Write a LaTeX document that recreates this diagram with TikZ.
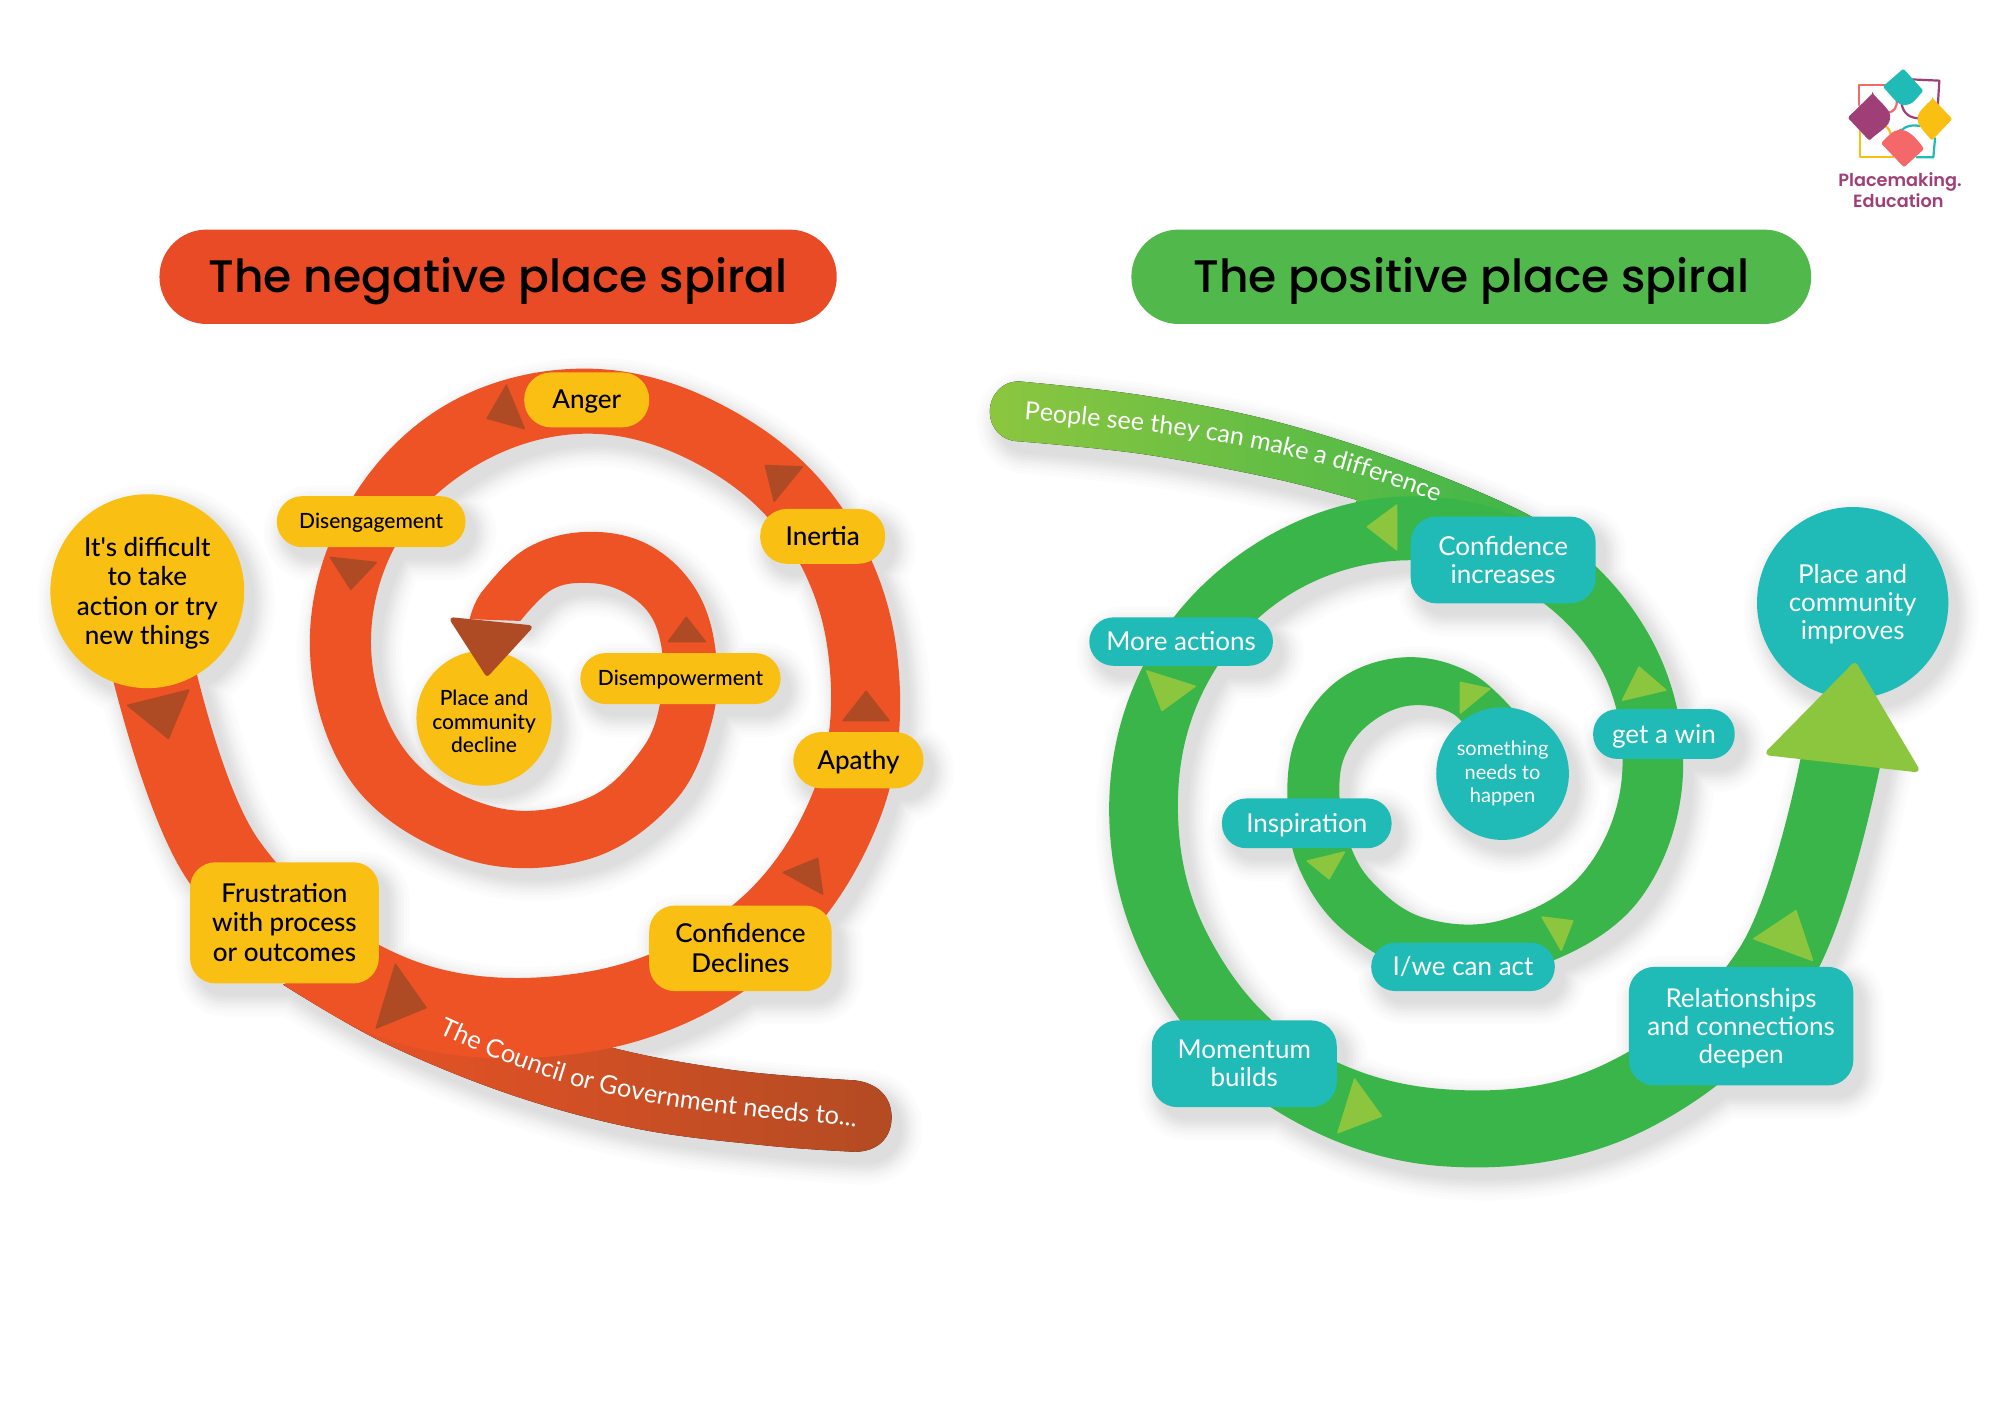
\documentclass[tikz,border=0pt]{standalone}
\usepackage{fontspec}
\usetikzlibrary{decorations.text}
\setmainfont{Lato}
\newfontfamily\medf{Lato Medium}
\newfontfamily\titlefont{Poppins Medium}
\newfontfamily\logofont{Poppins SemiBold}
\definecolor{spred}{HTML}{EE5326}
\definecolor{spdark}{HTML}{B34B23}
\definecolor{triR}{HTML}{AE4B24}
\definecolor{spgreen}{HTML}{3AB54A}
\definecolor{lgreen}{HTML}{8CC63F}
\definecolor{tealc}{HTML}{20BBB7}
\definecolor{yell}{HTML}{F9C013}
\definecolor{titleR}{HTML}{E84B25}
\definecolor{titleG}{HTML}{51B84B}
\definecolor{purp}{HTML}{A03E78}
\definecolor{coral}{HTML}{F4686A}
\tikzset{
  bx/.style 2 args={minimum width=#1*1.2755pt,minimum height=#2*1.2755pt,inner sep=0pt,align=center,rectangle},
  txtbig/.style={font=\fontsize{26}{29.5}\selectfont,text depth=1pt},
  txtteal/.style={font=\fontsize{26}{28}\selectfont,text depth=1pt},
  txtsm/.style={font=\fontsize{21}{23.5}\selectfont,text depth=1pt},
  ybox/.style={fill=yell,text=black,execute at begin node=\medf},
  tbox/.style={fill=tealc,text=white},
  rr/.style={rounded corners=#1*1.2755pt},
  ycirc/.style={circle,fill=yell,text=black,inner sep=0pt,align=center,minimum size=#1*1.2755pt,execute at begin node=\medf},
  tcirc/.style={circle,fill=tealc,text=white,inner sep=0pt,align=center,minimum size=#1*1.2755pt},
  triD/.style={fill=triR,draw=triR,line width=1.5pt,line join=round},
  triL/.style={fill=lgreen,draw=lgreen,line width=1.5pt,line join=round},
  pilltitle/.style={rectangle,inner sep=0pt,text=black,text depth=4pt,font=\titlefont\fontsize{45.6}{50}\selectfont},
  lg/.style={line width=2.2pt,line cap=round,line join=round},
  sl/.style={}
}
% the four band outlines
\newcommand\TailRed{plot[smooth,tension=.6] coordinates {(222,772)(300,817)(400,858)(500,885)(600,898)(670,903)}
  .. controls (688,903) and (699,892) .. (699,876)
  .. controls (699,860) and (688,849) .. (670,847)
  -- plot[smooth,tension=.6] coordinates {(670,847)(575,839)(475,820)(400,790)(300,745)} -- cycle}
\newcommand\TailGreen{plot[smooth,tension=.6] coordinates {(799,299)(896,310)(998,330)(1100,362)(1197,403)(1230,430)}
  -- (1060,400)
  -- plot[smooth,tension=.6] coordinates {(1064,392)(998,375)(896,356)(799,346)}
  .. controls (785,346) and (776,335) .. (776,323)
  .. controls (776,310) and (785,299) .. (799,299) -- cycle}
% spirals in polar form round their own centres
\newcommand\SpiralRed{plot[smooth,tension=.63] coordinates {(180:377)(150:361)(120:345)(90:315)(60:290)(30:265)(0:243)(-30:229)(-60:220)(-90:221)(-120:222)(-150:219)(-180:217)(-210:211)(-240:189)(-270:164)(-300:137)(-330:113)(-360:101)(-390:98)(-420:96)(-450:93)(-480:93)(-510:94)(-525:95)}
  -- plot[smooth,tension=.63] coordinates {(-516:57)(-480:55)(-450:53)(-420:54)(-390:57)(-360:59)(-330:68)(-300:88)(-270:116)(-240:142)(-210:162)(-180:169)(-150:171)(-120:169)(-90:170)(-60:170)(-30:178)(0:189)(30:208)(60:230)(90:252)(120:279)(150:297)(180:310)} -- cycle}
\newcommand\SpiralGreen{plot[smooth,tension=.63] coordinates {(-5:368)(26:344)(56:321)(86:295)(116:272)(146:252)(176:241)(206:235)(236:231)(266:231)(296:229)(326:220)(356:210)(386:195)(416:167)(446:144)(476:124)(506:110)(536:101)(566:103)(596:106)(626:105)(656:102)(686:100)}
  -- plot[smooth,tension=.63] coordinates {(686:60)(656:67)(626:67)(596:64)(566:62)(536:60)(506:65)(476:79)(446:100)(416:122)(386:146)(356:162)(326:174)(296:179)(266:181)(236:183)(206:184)(176:187)(146:198)(116:216)(86:234)(56:260)(26:282)(-5:303)} -- cycle}
\newcommand\SR[5]{\path[sl,rounded corners=#5*1.2755pt] ({#1-#3/2},{#2-#4/2}) rectangle ++(#3,#4);}
\newcommand\SC[3]{\path[sl] (#1,#2) circle[radius=#3];}
\newcommand\AllShadows{%
  \path[sl] \TailRed;
  \path[sl] \TailGreen;
  \begin{scope}[shift={(460,510)}]\path[sl] \SpiralRed;\end{scope}
  \begin{scope}[shift={(1110,620)}]\path[sl] \SpiralGreen;\end{scope}
  \SC{115.5}{463.5}{76}\SC{379.5}{563}{53}\SC{1452.5}{472.5}{75}\SC{1178}{606.5}{52}
  \SR{291}{409}{148}{40}{20}\SR{460}{313.5}{98}{43}{21}\SR{645}{420.5}{98}{43}{21}
  \SR{533.5}{532}{157}{40}{20}\SR{673}{596}{102}{44}{22}\SR{580.5}{743.5}{143}{67}{20}
  \SR{223}{723.5}{148}{95}{20}\SR{1178.5}{439}{145}{68}{20}\SR{926}{503}{144}{38}{19}
  \SR{1304.5}{575.5}{111}{39}{19}\SR{1024.5}{645.5}{133}{39}{19}\SR{1147}{758}{144}{38}{19}
  \SR{975.5}{834}{145}{68}{20}\SR{1365}{804.5}{176}{93}{20}}
\begin{document}
\begin{tikzpicture}[x=1.2755pt,y=-1.2755pt]
\useasboundingbox (0,0) rectangle (1568,1108.6);
\fill[white] (0,0) rectangle (1568,1108.6);

% Titles
\node[pilltitle,bx={531}{74},rr=37,fill=titleR] (tneg) at (390.5,217) {The negative place spiral};
\node[pilltitle,bx={533}{74},rr=37,fill=titleG] (tpos) at (1153.5,217) {The positive place spiral};

% soft shadows: opaque greys painted from the widest and palest to the narrowest and darkest
\begin{scope}[shift={(7,8.6)}]
  \foreach \w/\c in {44/1,38/2,32/3.5,26/5,20/7,15/9,10/10.5,5/12,1/13}{
    \tikzset{sl/.style={draw=black!\c,fill=black!\c,line width=\w pt,line join=round}}
    \AllShadows
  }
\end{scope}

% ---------- negative spiral
\fill[left color=spred,middle color=spdark,right color=spdark] \TailRed;
\begin{scope}[shift={(460,510)}]\fill[spred] \SpiralRed;\end{scope}

\path[postaction={decorate},decoration={text along path,text align=left,
  text={|\fontsize{25.4}{26}\selectfont\color{white}|The Council or Government needs to...}}]
  (344,810) .. controls (387,830) and (427,846) .. (469,856) .. controls (507,865) and (542,870) .. (577,874) .. controls (607,878) and (637,880) .. (669,883) -- (720,887);

% arrow triangles red
\filldraw[triD] (397,302)--(382,328)--(411,336)--cycle;
\filldraw[triD] (600,365)--(629,366)--(607,393)--cycle;
\filldraw[triD] (679,542)--(661,565)--(697,565)--cycle;
\filldraw[triD] (641,673)--(614,684)--(645,701)--cycle;
\filldraw[triD] (310,756)--(295,806)--(334,790)--cycle;
\filldraw[triD] (148,541)--(100,553)--(132,579)--cycle;
\filldraw[triD] (259,437)--(295,441)--(275,462)--cycle;
\filldraw[triD] (538,484)--(524,503)--(553,503)--cycle;

% nodes red
\node[ycirc=152,txtbig] (difficult) at (115.5,463.5) {It's difficult\\to take\\action or try\\new things};
\node[ycirc=106,txtsm] (decline) at (379.5,563) {\rule{0pt}{23pt}Place and\\community\\decline};
\node[ybox,bx={148}{40},rr=20,txtsm] (diseng) at (291,409) {Disengagement};
\node[ybox,bx={98}{43},rr=21,txtbig] (anger) at (460,313.5) {Anger};
\node[ybox,bx={98}{43},rr=21,txtbig] (inertia) at (645,420.5) {Inertia};
\node[ybox,bx={157}{40},rr=20,txtsm] (disemp) at (533.5,532) {Disempowerment};
\node[ybox,bx={102}{44},rr=22,txtbig] (apathy) at (673,596) {Apathy};
\node[ybox,bx={143}{67},rr=20,txtbig] (confd) at (580.5,743.5) {Confidence\\Declines};
\node[ybox,bx={148}{95},rr=20,txtbig] (frust) at (223,723.5) {Frustration\\with process\\or outcomes};
% big arrow red
\filldraw[fill=triR,draw=triR,line width=5pt,line join=round] (355,486)--(415,492)--(382,528)--cycle;

% ---------- positive spiral
\fill[left color=lgreen,right color=spgreen] \TailGreen;
\begin{scope}[shift={(1110,620)}]\fill[spgreen] \SpiralGreen;\end{scope}

\path[postaction={decorate},decoration={text along path,text align=left,
  text={|\fontsize{25.1}{26}\selectfont\color{white}|People see they can make a difference}}]
  (803,329) .. controls (840,332) and (880,336) .. (921,341) .. controls (955,346) and (985,351) .. (1013,358) .. controls (1055,368) and (1095,381) .. (1130,395) -- (1170,411);

% triangles green
\filldraw[triL] (1095,396)--(1072,413)--(1095,431)--cycle;
\filldraw[triL] (1285,523)--(1306,541)--(1272,549)--cycle;
\filldraw[triL] (1145,535)--(1168,540)--(1145,559)--cycle;
\filldraw[triL] (899,526)--(937,538)--(911,557)--cycle;
\filldraw[triL] (1025,675)--(1054,668)--(1042,689)--cycle;
\filldraw[triL] (1209,719)--(1233,722)--(1224,745)--cycle;
\filldraw[triL] (1062,846)--(1083,875)--(1049,888)--cycle;
\filldraw[triL] (1408,714)--(1375,736)--(1421,753)--cycle;

% nodes green
\node[tcirc=150,txtteal] (improves) at (1452.5,472.5) {Place and\\community\\improves};
\node[tcirc=104,font=\fontsize{20}{23.5}\selectfont] (happen) at (1178,606.5) {something\\needs to\\happen};
\node[tbox,bx={145}{68},rr=20,txtteal] (confi) at (1178.5,439) {Confidence\\increases};
\node[tbox,bx={144}{38},rr=19,txtteal] (more) at (926,503) {More actions};
\node[tbox,bx={111}{39},rr=19,txtteal] (win) at (1304.5,575.5) {get a win};
\node[tbox,bx={133}{39},rr=19,txtteal] (insp) at (1024.5,645.5) {Inspiration};
\node[tbox,bx={144}{38},rr=19,txtteal] (act) at (1147,758) {I/we can act};
\node[tbox,bx={145}{68},rr=20,txtteal] (moment) at (975.5,834) {Momentum\\builds};
\node[tbox,bx={176}{93},rr=20,txtteal] (relat) at (1365,804.5) {Relationships\\and connections\\deepen};
% big arrow green
\filldraw[fill=lgreen,draw=lgreen,line width=6pt,line join=round] (1454,522)--(1387,590)--(1502,603)--cycle;

% ---------- logo
\begin{scope}[shift={(1426.9,39.2)},x=0.3333pt,y=-0.3333pt]
  \draw[lg,draw=coral] (205,105)--(117,105)--(117,165);
  \draw[lg,draw=yell] (120,235)--(120,322)--(220,322);
  \draw[lg,draw=purp] (270,88)--(358,92)--(352,190);
  \draw[lg,draw=tealc] (345,265)--(340,322)--(290,322);
  \draw[lg,draw=coral] (205,188) .. controls (222,185) and (232,172) .. (230,150);
  \draw[lg,draw=purp] (245,160) .. controls (248,190) and (270,205) .. (298,205);
  \draw[lg,draw=yell] (195,228) .. controls (205,232) and (212,245) .. (213,258);
  \draw[lg,draw=tealc] (245,240) .. controls (260,226) and (280,224) .. (300,228);
  \fill[tealc,rounded corners=1.5pt] (250,56)--(310,122) .. controls (290,145) and (275,166) .. (252,165) .. controls (230,163) and (210,132) .. (188,110)--cycle;
  \fill[purp,rounded corners=1.5pt] (158,130)--(83,203)--(148,272) .. controls (175,245) and (210,230) .. (210,200) .. controls (210,180) and (180,155) .. (158,130)--cycle;
  \fill[yell,rounded corners=1.5pt] (338,145)--(397,207)--(335,272) .. controls (318,250) and (293,228) .. (293,205) .. controls (293,188) and (318,165) .. (338,145)--cycle;
  \fill[coral,rounded corners=1.5pt] (240,240) .. controls (268,240) and (295,272) .. (312,297)--(252,352)--(183,280) .. controls (200,262) and (220,240) .. (240,240)--cycle;
  \node[font=\logofont\fontsize{17.7}{20}\selectfont,text=purp] (logoa) at (240,395) {Placemaking.};
  \node[font=\logofont\fontsize{17.7}{20}\selectfont,text=purp] (logob) at (235,452) {Education};
\end{scope}
\end{tikzpicture}
\end{document}
